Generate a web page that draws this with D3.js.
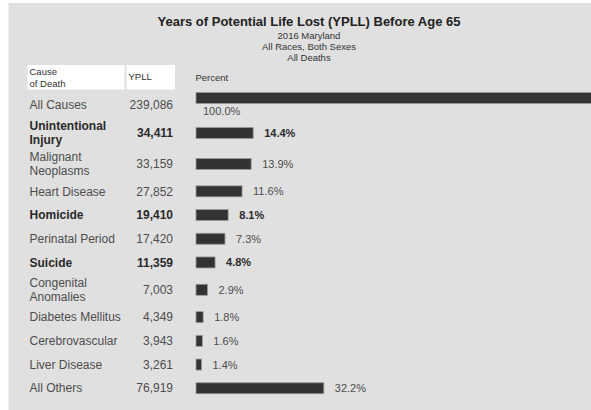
<!DOCTYPE html>
<html>
<head>
<meta charset="utf-8">
<script src="https://cdn.jsdelivr.net/npm/d3@7"></script>
<style>
  body { margin: 0; background: #fff; }
  svg { display: block; font-family: "Liberation Sans", Arial, sans-serif; }
</style>
</head>
<body>
<svg id="chart" width="591" height="410"></svg>
<script>
// chart data
var causes = [["All Causes"], ["Unintentional", "Injury"], ["Malignant", "Neoplasms"], ["Heart Disease"],
  ["Homicide"], ["Perinatal Period"], ["Suicide"], ["Congenital", "Anomalies"], ["Diabetes Mellitus"],
  ["Cerebrovascular"], ["Liver Disease"], ["All Others"]];
var ypll = [239086, 34411, 33159, 27852, 19410, 17420, 11359, 7003, 4349, 3943, 3261, 76919];
var percent = [100.0, 14.4, 13.9, 11.6, 8.1, 7.3, 4.8, 2.9, 1.8, 1.6, 1.4, 32.2];
var highlighted = ["Unintentional Injury", "Homicide", "Suicide"];
var subtitle = ["2016 Maryland", "All Races, Both Sexes", "All Deaths"];

var svg = d3.select("#chart");

//gray panel
svg.append("rect").attr("x", 8.5).attr("y", 3).attr("width", 600).attr("height", 420).attr("fill", "#e0e0e0");

//title and subtitle
svg.append("text").attr("x", 309).attr("y", 26).attr("text-anchor", "middle")
  .attr("font-size", 13).attr("font-weight", "bold").attr("fill", "#222")
  .text("Years of Potential Life Lost (YPLL) Before Age 65");
svg.selectAll(".sub").data(subtitle).enter().append("text")
  .attr("class", "sub").attr("x", 309).attr("y", function(d, i){ return 39 + i * 11; })
  .attr("text-anchor", "middle").attr("font-size", 9.5).attr("fill", "#333").text(function(d){ return d; });

//header boxes
svg.append("rect").attr("x", 27.5).attr("y", 65).attr("width", 97).attr("height", 24.5).attr("fill", "#fff");
svg.append("rect").attr("x", 126.5).attr("y", 65).attr("width", 48.5).attr("height", 24.5).attr("fill", "#fff");
var header = svg.append("g").attr("font-size", 9.5).attr("fill", "#333");
header.append("text").attr("x", 29.5).attr("y", 75).text("Cause");
header.append("text").attr("x", 29.5).attr("y", 86.5).text("of Death");
header.append("text").attr("x", 128.5).attr("y", 80).text("YPLL");
header.append("text").attr("x", 195.5).attr("y", 80.5).text("Percent");

//work out the row centres, two line rows are taller
var centers = [];
var rowTop = 117.5;
causes.forEach(function(c, i){
  if (i == 0){
    centers.push(104.5);
    return;
  }
  var h = c.length > 1 ? 31 : 23.7;
  centers.push(rowTop + h / 2);
  rowTop += h;
});

var x = d3.scaleLinear().domain([0, 100]).range([196, 593]);
var fmt = d3.format(",");

var rows = svg.selectAll(".row").data(causes).enter().append("g").attr("class", "row");

rows.each(function(c, i){
  var g = d3.select(this);
  var bold = highlighted.indexOf(c.join(" ")) >= 0;
  var cy = centers[i];
  var col = bold ? "#2a2a2a" : "#4d4d4d";
  var weight = bold ? "bold" : "normal";

  //cause label
  var lh = 13.5;
  c.forEach(function(line, j){
    g.append("text").attr("x", 29.5).attr("y", cy + 4.2 + (j - (c.length - 1) / 2) * lh)
      .attr("font-size", 12).attr("font-weight", weight).attr("fill", col).text(line);
  });

  //ypll value
  g.append("text").attr("x", 173).attr("y", cy + 4.2).attr("text-anchor", "end")
    .attr("font-size", 12).attr("font-weight", weight).attr("fill", col).text(fmt(ypll[i]));

  //bar, the all causes bar sits a bit higher with its label underneath
  var by = i == 0 ? 98 : cy;
  g.append("rect").attr("x", x(0)).attr("y", by - 5.5)
    .attr("width", x(percent[i]) - x(0)).attr("height", 11)
    .attr("fill", "#333").attr("stroke", "#9a9a9a").attr("stroke-width", 0.8);

  var lbl = g.append("text").attr("font-size", 11).attr("font-weight", weight).attr("fill", col)
    .text(percent[i].toFixed(1) + "%");
  if (i == 0){
    lbl.attr("x", x(0) + 7).attr("y", 115);
  } else {
    lbl.attr("x", x(percent[i]) + 11).attr("y", cy + 4);
  }
});
</script>
</body>
</html>
